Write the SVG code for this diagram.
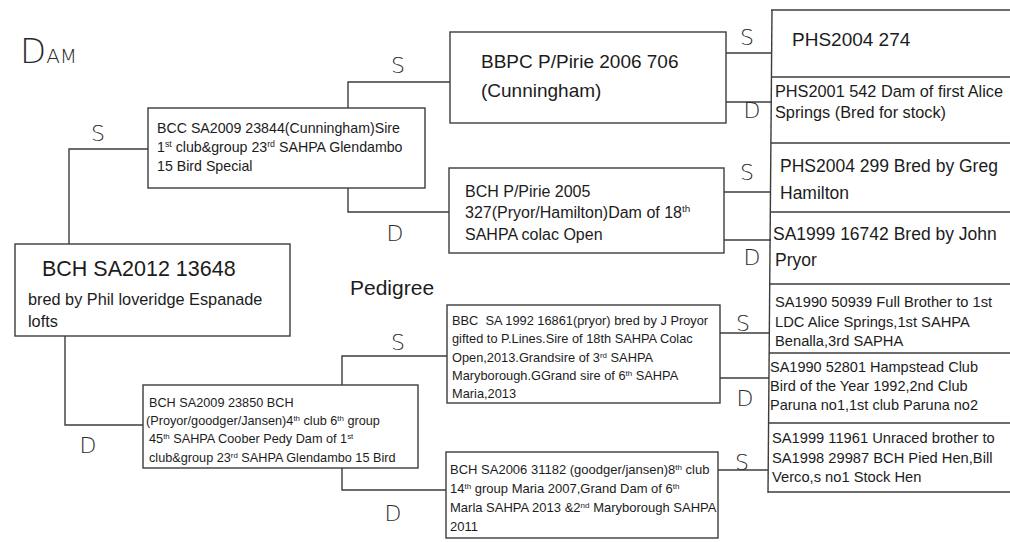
<svg xmlns="http://www.w3.org/2000/svg" width="1010" height="542" viewBox="0 0 1010 542">
<style>
.bx{fill:#fff;stroke:#3c3c3c;stroke-width:1.4}
.ln{fill:none;stroke:#3c3c3c;stroke-width:1.4}
.t{font-family:"Liberation Sans",Arial,sans-serif;fill:#1c1c1c}
.h{font-family:"DejaVu Sans",sans-serif;font-weight:200;fill:#2a2a2a;font-size:22px;text-anchor:middle}
.s{font-size:62%}
</style>
<rect width="1010" height="542" fill="#fff"/>

<g id="titles">
<text class="h" x="20" y="63" style="text-anchor:start"><tspan font-size="34">D</tspan><tspan font-size="20">AM</tspan></text>
<text class="t" x="350" y="295" font-size="21">Pedigree</text>
</g>

<g id="connectors">
<polyline class="ln" points="69,244 69,149 148,149"/>
<polyline class="ln" points="65,336 65,425 143,425"/>
<polyline class="ln" points="348,108 348,82 450,82"/>
<polyline class="ln" points="348,188 348,212 449,212"/>
<polyline class="ln" points="342,385 342,356 447,356"/>
<polyline class="ln" points="342,468 342,490 446,490"/>
<line class="ln" x1="726" y1="53" x2="772" y2="53"/>
<line class="ln" x1="726" y1="102" x2="772" y2="102"/>
<line class="ln" x1="724" y1="192" x2="771" y2="192"/>
<line class="ln" x1="724" y1="240" x2="771" y2="240"/>
<line class="ln" x1="720" y1="333" x2="769" y2="333"/>
<line class="ln" x1="720" y1="378" x2="769" y2="378"/>
<line class="ln" x1="718" y1="470" x2="768" y2="470"/>
<line class="ln" x1="772" y1="10" x2="768" y2="493"/>
<text class="h" x="98" y="141">S</text>
<text class="h" x="88" y="453">D</text>
<text class="h" x="398" y="73">S</text>
<text class="h" x="395" y="241">D</text>
<text class="h" x="398" y="350">S</text>
<text class="h" x="393" y="521">D</text>
<text class="h" x="747" y="45">S</text>
<text class="h" x="752" y="118">D</text>
<text class="h" x="747" y="180">S</text>
<text class="h" x="752" y="265">D</text>
<text class="h" x="743" y="331">S</text>
<text class="h" x="745" y="406">D</text>
<text class="h" x="742" y="470">S</text>
</g>

<g id="n-main">
<rect class="bx" x="15" y="244" width="275" height="92"/>
<text class="t" x="42" y="276" font-size="21.5">BCH SA2012 13648</text>
<text class="t" x="28" y="305" font-size="16.3">bred by Phil loveridge Espanade</text>
<text class="t" x="28" y="327" font-size="16.3">lofts</text>
</g>

<g id="n-sire">
<rect class="bx" x="148" y="108" width="277" height="80"/>
<text class="t" x="157" y="133" font-size="14.2">BCC SA2009 23844(Cunningham)Sire</text>
<text class="t" x="157" y="152" font-size="14.2">1<tspan class="s" dy="-5">st</tspan><tspan dy="5"> club&amp;group 23</tspan><tspan class="s" dy="-5">rd</tspan><tspan dy="5"> SAHPA Glendambo</tspan></text>
<text class="t" x="157" y="171" font-size="14.2">15 Bird Special</text>
</g>

<g id="n-ss">
<rect class="bx" x="450" y="32" width="276" height="91"/>
<text class="t" x="481" y="68" font-size="19">BBPC P/Pirie 2006 706</text>
<text class="t" x="481" y="97" font-size="19">(Cunningham)</text>
</g>

<g id="n-sd">
<rect class="bx" x="449" y="168" width="275" height="85"/>
<text class="t" x="465" y="197" font-size="16">BCH P/Pirie 2005</text>
<text class="t" x="465" y="218" font-size="16">327(Pryor/Hamilton)Dam of 18<tspan class="s" dy="-6">th</tspan></text>
<text class="t" x="465" y="240" font-size="16">SAHPA colac Open</text>
</g>

<g id="n-dam">
<rect class="bx" x="143" y="385" width="275" height="83"/>
<text class="t" x="149" y="407" font-size="12.7">BCH SA2009 23850 BCH</text>
<text class="t" x="146" y="425" font-size="12.7">(Proyor/goodger/Jansen)4<tspan class="s" dy="-4">th</tspan><tspan dy="4"> club 6</tspan><tspan class="s" dy="-4">th</tspan><tspan dy="4"> group</tspan></text>
<text class="t" x="149" y="443" font-size="12.7">45<tspan class="s" dy="-4">th</tspan><tspan dy="4"> SAHPA Coober Pedy Dam of 1</tspan><tspan class="s" dy="-4">st</tspan></text>
<text class="t" x="149" y="462" font-size="12.7">club&amp;group 23<tspan class="s" dy="-4">rd</tspan><tspan dy="4"> SAHPA Glendambo 15 Bird</tspan></text>
</g>

<g id="n-ds">
<rect class="bx" x="447" y="305" width="273" height="98"/>
<text class="t" x="452" y="325" font-size="12.8" xml:space="preserve">BBC  SA 1992 16861(pryor) bred by J Proyor</text>
<text class="t" x="452" y="343" font-size="12.8">gifted to P.Lines.Sire of 18th SAHPA Colac</text>
<text class="t" x="452" y="362" font-size="12.8">Open,2013.Grandsire of 3<tspan class="s" dy="-4">rd</tspan><tspan dy="4"> SAHPA</tspan></text>
<text class="t" x="452" y="380" font-size="12.8">Maryborough.GGrand sire of 6<tspan class="s" dy="-4">th</tspan><tspan dy="4"> SAHPA</tspan></text>
<text class="t" x="452" y="398" font-size="12.8">Maria,2013</text>
</g>

<g id="n-dd">
<rect class="bx" x="446" y="452" width="272" height="86"/>
<text class="t" x="450" y="474" font-size="13">BCH SA2006 31182 (goodger/jansen)8<tspan class="s" dy="-4">th</tspan><tspan dy="4"> club</tspan></text>
<text class="t" x="450" y="493" font-size="13">14<tspan class="s" dy="-4">th</tspan><tspan dy="4"> group Maria 2007,Grand Dam of 6</tspan><tspan class="s" dy="-4">th</tspan></text>
<text class="t" x="450" y="512" font-size="13">Marla SAHPA 2013 &amp;2<tspan class="s" dy="-4">nd</tspan><tspan dy="4"> Maryborough SAHPA</tspan></text>
<text class="t" x="450" y="531" font-size="13">2011</text>
</g>

<g id="n-column">
<line class="ln" x1="771" y1="10" x2="1010" y2="10"/>
<line class="ln" x1="771" y1="77" x2="1010" y2="77"/>
<line class="ln" x1="771" y1="143" x2="1010" y2="143"/>
<line class="ln" x1="770" y1="212" x2="1010" y2="212"/>
<line class="ln" x1="770" y1="284" x2="1010" y2="284"/>
<line class="ln" x1="769" y1="353" x2="1010" y2="353"/>
<line class="ln" x1="769" y1="423" x2="1010" y2="423"/>
<line class="ln" x1="768" y1="492" x2="1010" y2="492"/>
</g>
<g id="n-sss"><text class="t" x="792" y="46" font-size="19">PHS2004 274</text></g>
<g id="n-ssd">
<text class="t" x="775" y="97" font-size="16.3">PHS2001 542 Dam of first Alice</text>
<text class="t" x="775" y="118" font-size="16.3">Springs (Bred for stock)</text>
</g>
<g id="n-sds">
<text class="t" x="780" y="172" font-size="17.5">PHS2004 299 Bred by Greg</text>
<text class="t" x="780" y="199" font-size="17.5">Hamilton</text>
</g>
<g id="n-sdd">
<text class="t" x="773" y="240" font-size="17.5">SA1999 16742 Bred by John</text>
<text class="t" x="775" y="266" font-size="17.5">Pryor</text>
</g>
<g id="n-dss">
<text class="t" x="775" y="307" font-size="14.7">SA1990 50939 Full Brother to 1st</text>
<text class="t" x="775" y="327" font-size="14.7">LDC Alice Springs,1st SAHPA</text>
<text class="t" x="775" y="346" font-size="14.7">Benalla,3rd SAPHA</text>
</g>
<g id="n-dsd">
<text class="t" x="770" y="372" font-size="14.5">SA1990 52801 Hampstead Club</text>
<text class="t" x="770" y="391" font-size="14.5">Bird of the Year 1992,2nd Club</text>
<text class="t" x="770" y="410" font-size="14.5">Paruna no1,1st club Paruna no2</text>
</g>
<g id="n-dds">
<text class="t" x="772" y="443" font-size="14.7">SA1999 11961 Unraced brother to</text>
<text class="t" x="772" y="463" font-size="14.7">SA1998 29987 BCH Pied Hen,Bill</text>
<text class="t" x="772" y="482" font-size="14.7">Verco,s no1 Stock Hen</text>
</g>
</svg>
